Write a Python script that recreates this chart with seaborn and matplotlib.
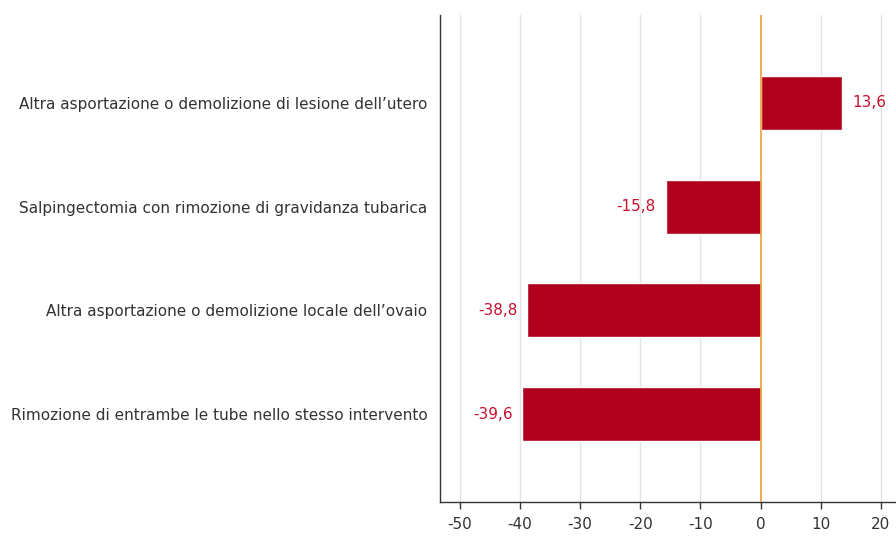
import matplotlib
matplotlib.use("Agg")
import matplotlib.pyplot as plt
import seaborn as sns
import pandas as pd

# dati
categorie = [
    "Altra asportazione o demolizione di lesione dell\u2019utero",
    "Salpingectomia con rimozione di gravidanza tubarica",
    "Altra asportazione o demolizione locale dell\u2019ovaio",
    "Rimozione di entrambe le tube nello stesso intervento",
]
valori = [13.6, -15.8, -38.8, -39.6]
xticks = [-50, -40, -30, -20, -10, 0, 10, 20]

df = pd.DataFrame({"cat": categorie, "val": valori})

sns.set_style("white")
plt.rcParams["font.family"] = ["DejaVu Sans"]

fig = plt.figure(figsize=(8.96, 5.36), dpi=100)
ax = fig.add_axes([440 / 896, 1 - 502 / 536, 456 / 896, 487 / 536])

for x in xticks:
    if x != 0:
        ax.axvline(x, color="#e3e3e3", lw=1, zorder=0)

sns.barplot(data=df, x="val", y="cat", orient="h", color="#b0001e",
            width=0.52, saturation=1, ax=ax, zorder=2)
ax.axvline(0, color="#f0a030", lw=1.2, zorder=3)

for i, v in enumerate(valori):
    txt = f"{v:.1f}".replace(".", ",")
    if v >= 0:
        ax.text(v + 1.6, i, txt, va="center", ha="left", color="#c8102e", fontsize=11)
    else:
        ax.text(v - 1.6, i, txt, va="center", ha="right", color="#c8102e", fontsize=11)

ax.set_xlim(-53.3, 22.5)
ax.set_ylim(3.846, -0.846)
ax.set_xticks(xticks)
ax.set_xticklabels([str(x) for x in xticks])
ax.set_xlabel("")
ax.set_ylabel("")
for s in ["top", "right"]:
    ax.spines[s].set_visible(False)
for s in ["left", "bottom"]:
    ax.spines[s].set_color("#333333")
    ax.spines[s].set_linewidth(1)
ax.tick_params(axis="x", length=5, width=1, color="#333333", labelcolor="#333333",
               labelsize=11, bottom=True, direction="out", pad=6)
ax.tick_params(axis="y", length=0, labelcolor="#333333", labelsize=11, pad=9)

fig.savefig("out.png", dpi=100)
